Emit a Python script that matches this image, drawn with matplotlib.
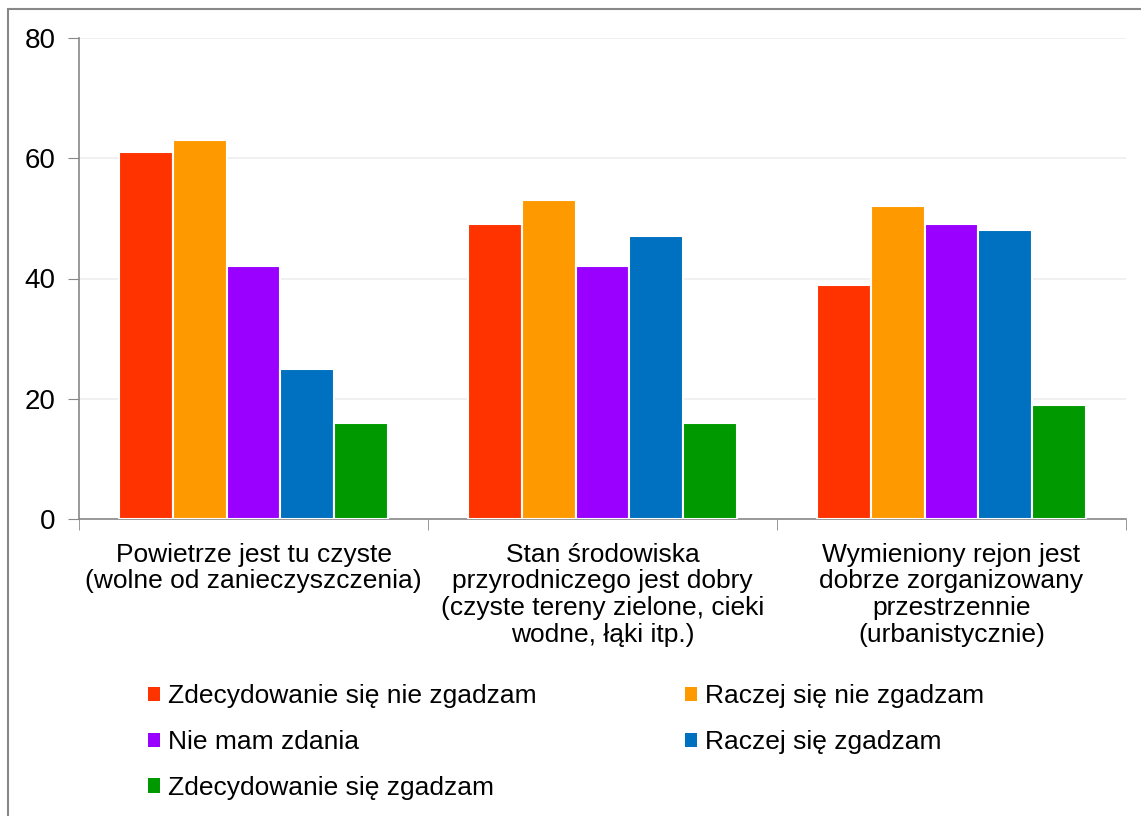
import numpy as np
import matplotlib.pyplot as plt
from matplotlib.patches import Rectangle, Patch

plt.rcParams['font.family'] = ['Liberation Sans', 'DejaVu Sans']

categories = ["Powietrze jest tu czyste\n(wolne od zanieczyszczenia)",
              "Stan środowiska\nprzyrodniczego jest dobry\n(czyste tereny zielone, cieki\nwodne, łąki itp.)",
              "Wymieniony rejon jest\ndobrze zorganizowany\nprzestrzennie\n(urbanistycznie)"]
series = ["Zdecydowanie się nie zgadzam", "Raczej się nie zgadzam", "Nie mam zdania",
          "Raczej się zgadzam", "Zdecydowanie się zgadzam"]
zdec_nie = [61, 49, 39]
raczej_nie = [63, 53, 52]
nie_mam = [42, 42, 49]
raczej_tak = [25, 47, 48]
zdec_tak = [16, 16, 19]
colors = ["#FF3300", "#FF9900", "#9900FF", "#0070C0", "#009900"]

values = [zdec_nie, raczej_nie, nie_mam, raczej_tak, zdec_tak]

fig = plt.figure(figsize=(11.41, 8.16), dpi=100)
ax = fig.add_axes([79/1141, 1-519/816, (1126-79)/1141, (519-38)/816])

x = np.arange(len(categories))
n = len(series)
group_w = 0.77
bw = group_w / n
for i, (vals, c) in enumerate(zip(values, colors)):
    ax.bar(x - group_w/2 + bw*(i+0.5), vals, width=bw, color=c,
           edgecolor="white", linewidth=1.5, zorder=3)

ax.set_xlim(-0.5, 2.5)
ax.set_ylim(0, 80)
ax.set_yticks([0, 20, 40, 60, 80])
ax.tick_params(axis='y', labelsize=20, length=8, color="#888888", pad=9)
ax.yaxis.grid(True, color="#EEEEEE", linewidth=1.2, zorder=0)

ax.set_xticks(x)
ax.set_xticklabels(categories, fontsize=19, linespacing=1.14)
ax.set_xticks([-0.5, 0.5, 1.5, 2.5], minor=True)
ax.tick_params(axis='x', which='major', length=0, pad=17)
ax.tick_params(axis='x', which='minor', length=8, color="#888888")

for s in ["top", "right"]:
    ax.spines[s].set_visible(False)
for s in ["left", "bottom"]:
    ax.spines[s].set_color("#888888")
    ax.spines[s].set_linewidth(1.2)

handles = [Patch(facecolor=c, label=s) for c, s in zip(colors, series)]
order = [0, 2, 4, 1, 3]
fig.legend([handles[i] for i in order], [series[i] for i in order],
           loc="upper left", bbox_to_anchor=(135/1141, 1-671/816), ncol=2,
           frameon=False, fontsize=19, handlelength=0.46, handleheight=0.46,
           handletextpad=0.3, labelspacing=0.83, columnspacing=5.6, borderpad=0)

fig.patches.append(Rectangle((8/1141, -0.1), 1.2, 1-9/816+0.1, transform=fig.transFigure,
                             fill=False, edgecolor="#888888", linewidth=1.5))

fig.savefig("out.png", dpi=100)
